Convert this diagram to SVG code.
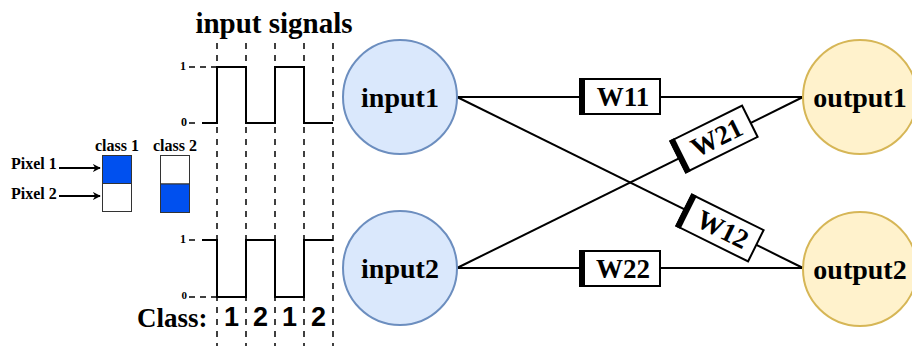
<svg xmlns="http://www.w3.org/2000/svg" width="912" height="346" viewBox="0 0 912 346">
<style>
text{font-family:"Liberation Serif","Times New Roman",serif;font-weight:bold;fill:#000}
.sans{font-family:"Liberation Sans",Arial,sans-serif}
.in{fill:#dae8fc;stroke:#6c8ebf;stroke-width:2}
.out{fill:#fff2cc;stroke:#d6b656;stroke-width:2}
.edge{stroke:#000;stroke-width:2;fill:none}
.wbox{fill:#fff;stroke:#000;stroke-width:2}
.guide{stroke:#000;stroke-width:1.5;stroke-dasharray:6 6;fill:none}
.tick{stroke:#000;stroke-width:1.5;stroke-dasharray:6 5;fill:none}
.sig{stroke:#000;stroke-width:2;fill:none}
.px{stroke:#333;stroke-width:1}
</style>
<defs>
<marker id="arr" viewBox="0 0 10 10" refX="9" refY="5" markerWidth="8" markerHeight="8" orient="auto" markerUnits="userSpaceOnUse">
<path d="M0,0 L10,5 L0,10 L3,5 Z" fill="#000"/>
</marker>
</defs>
<rect width="912" height="346" fill="#fff"/>

<g id="title"><text x="274" y="33" font-size="29" text-anchor="middle">input signals</text></g>

<g id="guides">
<line class="guide" x1="217" y1="43" x2="217" y2="346"/>
<line class="guide" x1="246" y1="43" x2="246" y2="346"/>
<line class="guide" x1="275" y1="43" x2="275" y2="346"/>
<line class="guide" x1="304" y1="43" x2="304" y2="346"/>
<line class="guide" x1="333" y1="43" x2="333" y2="346"/>
</g>

<g id="signal1">
<text x="186" y="70" font-size="12" text-anchor="end">1</text>
<text x="187" y="126" font-size="12" text-anchor="end">0</text>
<line class="tick" x1="189" y1="67" x2="217" y2="67"/>
<line class="tick" x1="189" y1="123" x2="200" y2="123"/>
<path class="sig" d="M202,123 H217 V67 H246 V123 H275 V67 H304 V123 H333"/>
</g>

<g id="signal2">
<text x="186" y="243" font-size="12" text-anchor="end">1</text>
<text x="187" y="299" font-size="11" text-anchor="end">0</text>
<line class="tick" x1="189" y1="240" x2="200" y2="240"/>
<line class="tick" x1="189" y1="297" x2="217" y2="297"/>
<path class="sig" d="M202,240 H217 V297 H246 V240 H275 V297 H304 V240 H333"/>
</g>

<g id="class-labels">
<text x="137" y="327" font-size="27">Class:</text>
<text class="sans" x="231.5" y="326" font-size="27" text-anchor="middle">1</text>
<text class="sans" x="260.5" y="326" font-size="27" text-anchor="middle">2</text>
<text class="sans" x="289.5" y="326" font-size="27" text-anchor="middle">1</text>
<text class="sans" x="318.5" y="326" font-size="27" text-anchor="middle">2</text>
</g>

<g id="pixels">
<text x="117" y="151" font-size="16" text-anchor="middle">class 1</text>
<text x="175" y="151" font-size="16" text-anchor="middle">class 2</text>
<text x="11" y="169" font-size="16">Pixel 1</text>
<text x="11" y="199" font-size="16">Pixel 2</text>
<line x1="59" y1="168" x2="100" y2="168" stroke="#000" stroke-width="2" marker-end="url(#arr)"/>
<line x1="59" y1="196" x2="100" y2="196" stroke="#000" stroke-width="2" marker-end="url(#arr)"/>
<rect class="px" x="102.5" y="155.5" width="29" height="28" fill="#0050ef"/>
<rect class="px" x="102.5" y="183.5" width="29" height="28" fill="#fff"/>
<rect class="px" x="160.5" y="155.5" width="29" height="28.5" fill="#fff"/>
<rect class="px" x="160.5" y="184" width="29" height="28.5" fill="#0050ef"/>
</g>

<g id="connectors">
<line class="edge" x1="457" y1="97" x2="803" y2="97"/>
<line class="edge" x1="457" y1="268" x2="803" y2="268"/>
<line class="edge" x1="457" y1="97" x2="803" y2="268"/>
<line class="edge" x1="457" y1="268" x2="803" y2="97"/>
</g>

<g id="w11">
<rect class="wbox" x="580" y="79" width="80" height="35"/>
<rect x="579" y="78" width="6" height="37" fill="#000"/>
<text x="623" y="106" font-size="27" text-anchor="middle">W11</text>
</g>
<g id="w22">
<rect class="wbox" x="580" y="251" width="80" height="35"/>
<rect x="579" y="250" width="6" height="37" fill="#000"/>
<text x="623" y="278" font-size="27" text-anchor="middle">W22</text>
</g>
<g id="w21" transform="translate(714,139) rotate(-26.37)">
<rect class="wbox" x="-40" y="-17.5" width="80" height="35"/>
<rect x="-41" y="-18.5" width="6" height="37" fill="#000"/>
<text x="3" y="9" font-size="27" text-anchor="middle">W21</text>
</g>
<g id="w12" transform="translate(720,228) rotate(26.37)">
<rect class="wbox" x="-40" y="-17.5" width="80" height="35"/>
<rect x="-41" y="-18.5" width="6" height="37" fill="#000"/>
<text x="3" y="9" font-size="27" text-anchor="middle">W12</text>
</g>

<g id="input1">
<circle class="in" cx="400" cy="97" r="57"/>
<text x="400" y="107" font-size="28" text-anchor="middle">input1</text>
</g>
<g id="input2">
<circle class="in" cx="400" cy="268" r="57"/>
<text x="400" y="278" font-size="28" text-anchor="middle">input2</text>
</g>
<g id="output1">
<circle class="out" cx="860" cy="97" r="57"/>
<text x="860" y="107" font-size="28" text-anchor="middle">output1</text>
</g>
<g id="output2">
<circle class="out" cx="860" cy="269" r="57"/>
<text x="860" y="279" font-size="28" text-anchor="middle">output2</text>
</g>
</svg>
